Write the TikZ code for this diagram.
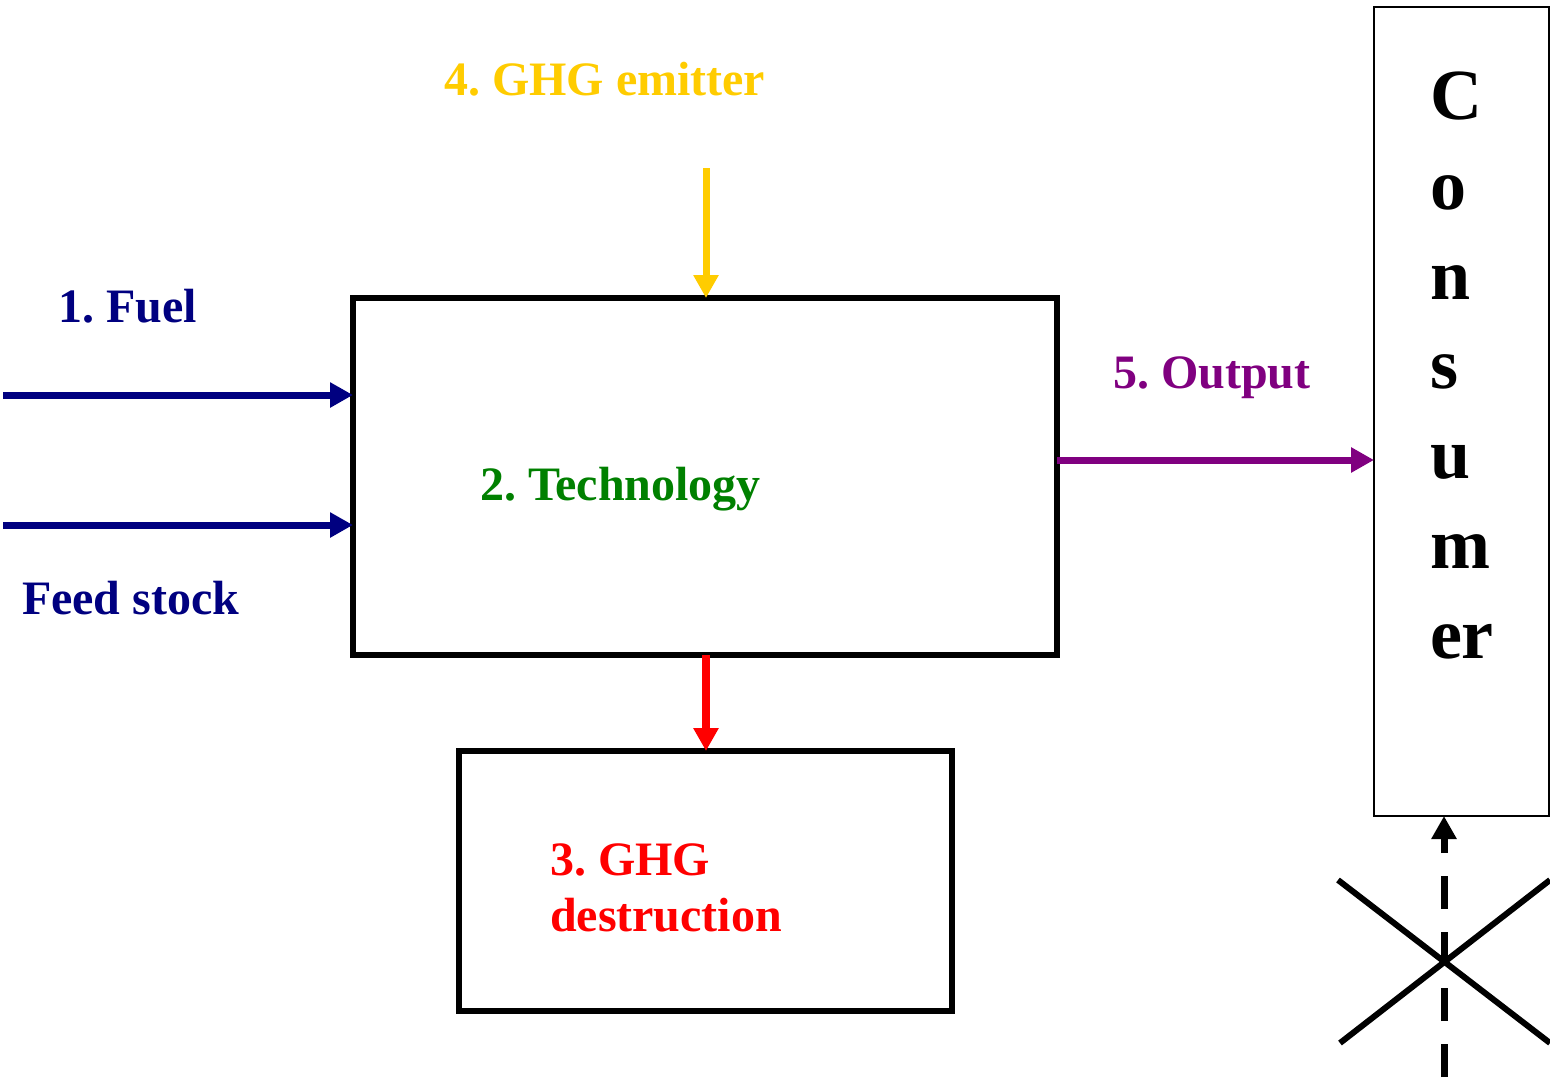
\documentclass[tikz,border=0pt]{standalone}
\usepackage{fontspec}
\setmainfont{Liberation Serif}
\usetikzlibrary{arrows.meta}
\definecolor{navy}{HTML}{000080}
\definecolor{ghgyellow}{HTML}{FFCC00}
\definecolor{techgreen}{HTML}{008000}
\definecolor{outpurple}{HTML}{800080}
\definecolor{destred}{HTML}{FF0000}
\frenchspacing
\begin{document}
\begin{tikzpicture}[x=1pt,y=-1pt,
  box/.style={draw=black, rectangle, inner sep=0pt, outer sep=0pt},
  lbl/.style={inner sep=0pt, outer sep=0pt, anchor=base west, font=\bfseries\fontsize{48}{56}\selectfont},
  flow/.style={line width=7pt, -{Triangle[length=23pt,width=24pt]}}
]
\fill[white] (0,0) rectangle (1550,1077);
\useasboundingbox (0,0) rectangle (1550,1077);

% boxes
\node[box, line width=6pt, minimum width=704pt, minimum height=357pt] (tech) at (705,476.5) {};
\node[box, line width=6pt, minimum width=493pt, minimum height=260pt] (dest) at (705.5,881) {};
\node[box, line width=2pt, minimum width=175pt, minimum height=809pt] (cons) at (1461.5,411.5) {};

% labels
\node[lbl, text=ghgyellow] (lemit) at (444,95) {4. GHG emitter};
\node[lbl, text=navy] (lfuel) at (58,322) {1. Fuel};
\node[lbl, text=navy] (lfeed) at (22,614) {Feed stock};
\node[lbl, text=techgreen] (ltech) at (480,500) {2. Technology};
\node[lbl, text=outpurple] (lout) at (1113,388) {5. Output};
\node[lbl, text=destred] (ldest1) at (550,875) {3. GHG};
\node[lbl, text=destred] (ldest2) at (550,931) {destruction};
\node[inner sep=0pt, outer sep=0pt, anchor=base west, align=left,
  font=\bfseries\fontsize{72}{89.7}\selectfont] (lcons) at (1430,658) {C\\o\\n\\s\\u\\m\\er};

% free ends
\coordinate (fuelstart) at (3,395);
\coordinate (feedstart) at (3,525);
\coordinate (emitstart) at (706,168);
\coordinate (dashstart) at (1444,1077);

% connectors
\draw[flow, draw=navy] (fuelstart) -- (fuelstart -| tech.west);
\draw[flow, draw=navy] (feedstart) -- (feedstart -| tech.west);
\draw[flow, draw=ghgyellow] (emitstart) -- (emitstart |- tech.north);
\draw[flow, draw=destred, line width=8pt] (tech.south -| emitstart) -- (dest.north -| emitstart);
\coordinate (outstart) at (tech.east |- 0,460);
\draw[flow, draw=outpurple] (outstart) -- (outstart -| cons.west);
\draw[flow, draw=black, dash pattern=on 33pt off 23pt] (dashstart) -- (dashstart |- cons.south);

% cross
\coordinate (x1) at (1338,880);
\coordinate (x2) at (1550,1043);
\coordinate (x3) at (1340,1043);
\coordinate (x4) at (1550,880);
\draw[black, line width=6pt] (x1) -- (x2);
\draw[black, line width=6pt] (x3) -- (x4);
\end{tikzpicture}
\end{document}
